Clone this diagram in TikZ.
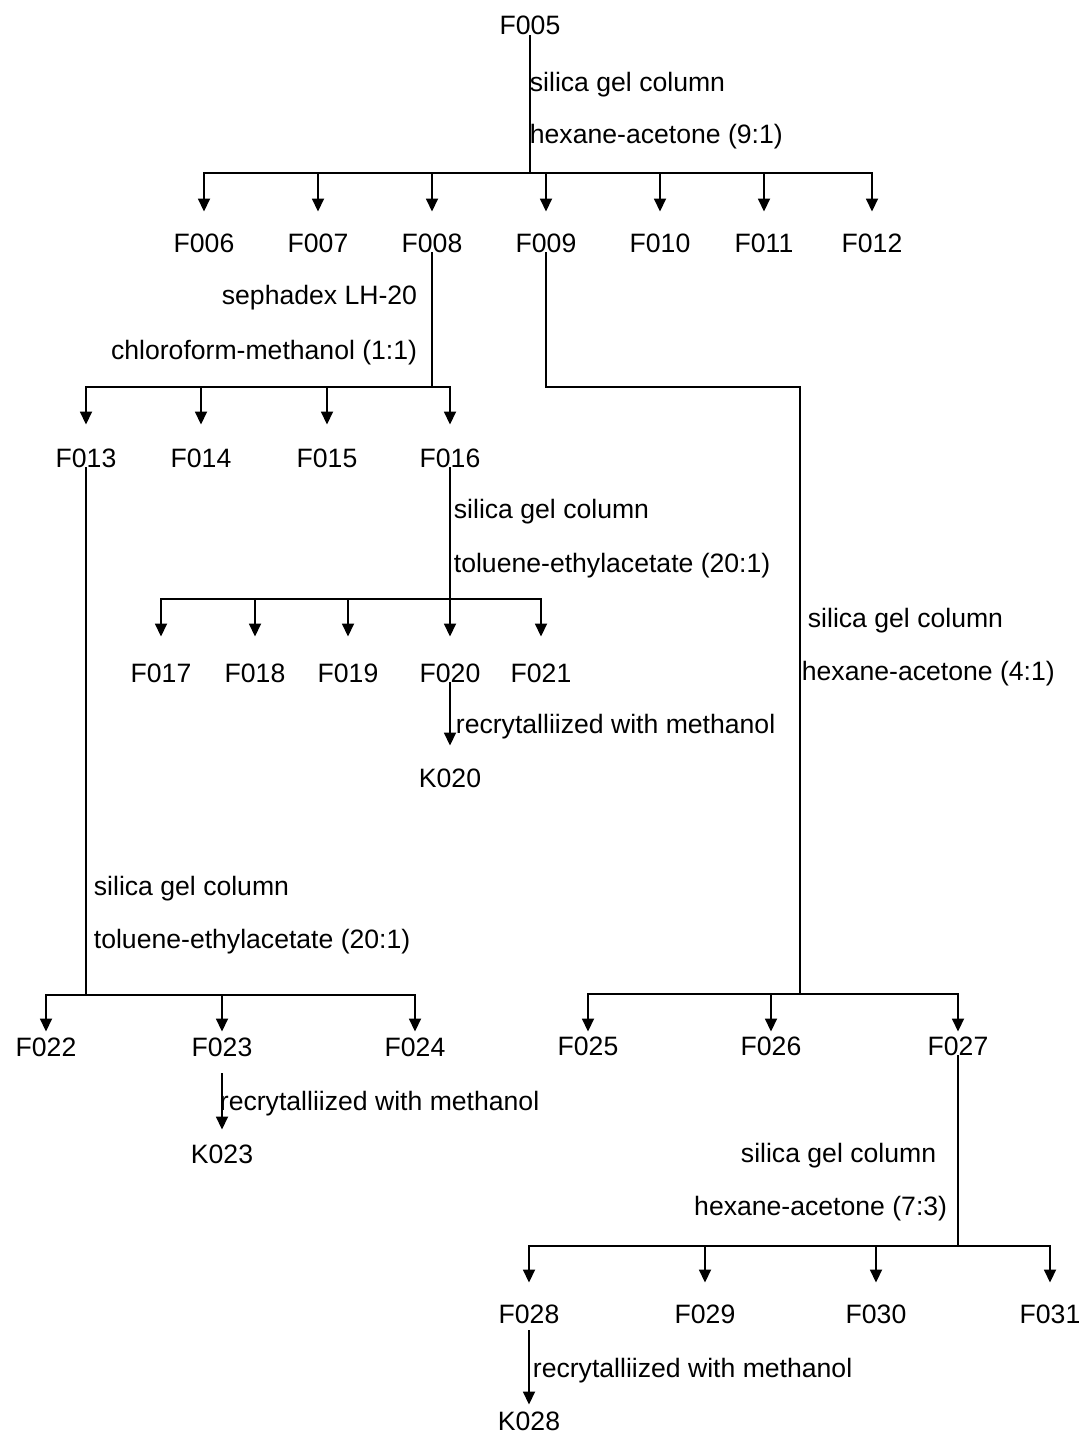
\documentclass[tikz,border=0pt]{standalone}
\usepackage{fontspec}
\setmainfont{Liberation Sans}
\usetikzlibrary{arrows.meta}
\tikzset{>={Triangle[length=6.5pt,width=6pt]}}

\begin{document}
\begin{tikzpicture}[x=0.5pt,y=-0.5pt,line width=0.9pt,line cap=rect,
  frac/.style={inner sep=0pt,anchor=base,font=\fontsize{13.3}{16}\selectfont},
  proc/.style={inner sep=0pt,anchor=base west,font=\fontsize{13.3}{16}\selectfont},
  procl/.style={proc,anchor=base east}]
\useasboundingbox (0,0) rectangle (1078,1434);
\coordinate (b1) at (0,173);
\coordinate (b2) at (0,387);
\coordinate (b3) at (0,599);
\coordinate (b4) at (0,995);
\coordinate (b5) at (0,994);
\coordinate (b6) at (0,1246);
\coordinate (c9) at (800,387);
% fractions
\node[frac] (F005) at (530,35) {F005};
\foreach \n/\x in {006/204,007/318,008/432,009/546,010/660,011/764,012/872}
  \node[frac] (F\n) at (\x,252) {F\n};
\foreach \n/\x in {013/86,014/201,015/327,016/450}
  \node[frac] (F\n) at (\x,467) {F\n};
\foreach \n/\x in {017/161,018/255,019/348,020/450,021/541}
  \node[frac] (F\n) at (\x,682) {F\n};
\node[frac] (K020) at (450,787) {K020};
\foreach \n/\x in {022/46,023/222,024/415}
  \node[frac] (F\n) at (\x,1056) {F\n};
\node[frac] (K023) at (222,1163) {K023};
\foreach \n/\x in {025/588,026/771,027/958}
  \node[frac] (F\n) at (\x,1055) {F\n};
\foreach \n/\x in {028/529,029/705,030/876,031/1050}
  \node[frac] (F\n) at (\x,1323) {F\n};
\node[frac] (K028) at (529,1430) {K028};
% methods
\node[proc] (sgc1) at (529,91) {silica gel column};
\node[proc] (sol1) at (529,143) {hexane-acetone (9:1)};
\node[procl] (sep2) at (418,304) {sephadex LH-20};
\node[procl] (sol2) at (418,359) {chloroform-methanol (1:1)};
\node[proc] (sgc3) at (453,518) {silica gel column};
\node[proc] (sol3) at (453,572) {toluene-ethylacetate (20:1)};
\node[proc] (rec20) at (455,733) {recrytalliized with methanol};
\node[proc] (sgc9) at (807,627) {silica gel column};
\node[proc] (sol9) at (801,680) {hexane-acetone (4:1)};
\node[proc] (sgc4) at (93,895) {silica gel column};
\node[proc] (sol4) at (93,948) {toluene-ethylacetate (20:1)};
\node[proc] (rec23) at (219,1110) {recrytalliized with methanol};
\node[procl] (sgc6) at (937,1162) {silica gel column};
\node[procl] (sol6) at (948,1215) {hexane-acetone (7:3)};
\node[proc] (rec28) at (532,1377) {recrytalliized with methanol};
% tree
\draw (F005.south) -- (F005 |- b1);
\draw (F006 |- b1) -- (F012 |- b1);
\foreach \n in {F006,F007,F008,F009,F010,F011,F012}
  \draw[->,shorten >=10.5pt] (\n |- b1) -- (\n.north);
\draw (F008.south) -- (F008 |- b2);
\draw (F013 |- b2) -- (F016 |- b2);
\foreach \n in {F013,F014,F015,F016}
  \draw[->,shorten >=11.5pt] (\n |- b2) -- (\n.north);
\draw (F016.south) -- (F016 |- b3);
\draw (F017 |- b3) -- (F021 |- b3);
\foreach \n in {F017,F018,F019,F020,F021}
  \draw[->,shorten >=13pt] (\n |- b3) -- (\n.north);
\draw[->,shorten >=11pt] (F020.south) -- (K020.north);
\draw (F013.south) -- (F013 |- b4);
\draw (F022 |- b4) -- (F024 |- b4);
\foreach \n in {F022,F023,F024}
  \draw[->,shorten >=2.5pt] (\n |- b4) -- (\n.north);
\draw[->,shorten <=8.5pt,shorten >=7pt] (F023.south) -- (K023.north);
\draw (F009.south) |- (c9) -- (c9 |- b5);
\draw (F025 |- b5) -- (F027 |- b5);
\foreach \n in {F025,F026,F027}
  \draw[->,shorten >=2pt] (\n |- b5) -- (\n.north);
\draw (F027.south) -- (F027 |- b6);
\draw (F028 |- b6) -- (F031 |- b6);
\foreach \n in {F028,F029,F030,F031}
  \draw[->,shorten >=10.5pt] (\n |- b6) -- (\n.north);
\draw[->,shorten <=3.5pt,shorten >=3pt] (F028.south) -- (K028.north);
\end{tikzpicture}
\end{document}
